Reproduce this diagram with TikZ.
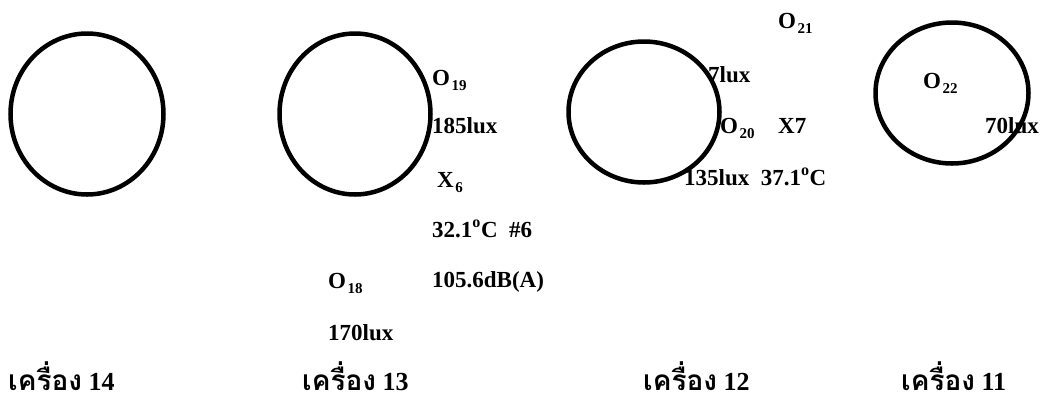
\documentclass[tikz,border=0pt]{standalone}
\usepackage{fontspec}
\setmainfont{Liberation Serif}
\newfontfamily\thaifont[Script=Thai]{Loma}
\usepackage{tikz}
\usetikzlibrary{shapes.geometric}

\newcommand{\lo}[1]{\kern1.5pt\raisebox{-0.5ex}{\fontsize{15}{16}\selectfont\bfseries#1}}
\newcommand{\degc}{\textsuperscript{o}C}
\newcommand{\kr}{{\thaifont\fontsize{28}{30}\selectfont เครื่อง}}

\begin{document}
\begin{tikzpicture}[x=1pt,y=-1pt,font=\fontsize{23}{26}\selectfont\bfseries,
 reading/.style={anchor=base west,inner sep=0pt},
 machine/.style={anchor=base west,inner sep=0pt,font=\fontsize{26}{28}\selectfont\bfseries},
 pit/.style={draw,ellipse,line width=4.5pt,inner sep=0pt}]
\useasboundingbox (0,0) rectangle (1042,400);
% readings
\node[reading] (o19) at (432,85) {O\lo{19}};
\node[reading] (lux185) at (432,133) {185lux};
\node[reading] (x6) at (437,187) {X\lo{6}};
\node[reading] (temp6) at (432,237) {32.1\degc\ \ \#6};
\node[reading] (noise6) at (432,287) {105.6dB(A)};
\node[reading] (o18) at (328,288) {O\lo{18}};
\node[reading] (lux170) at (328,340) {170lux};
\node[reading] (o21) at (778,28) {O\lo{21}};
\node[reading] (lux7) at (708,82) {7lux};
\node[reading] (o20) at (720,133) {O\lo{20}};
\node[reading] (x7) at (778,133) {X7};
\node[reading] (lux135) at (684,185) {135lux\ \ 37.1\degc};
\node[reading] (o22) at (923,88) {O\lo{22}};
\node[reading] (lux70) at (985,133) {70lux};
% machines
\node[machine] (m14) at (8,390) {\kr\ 14};
\node[machine] (m13) at (302,390) {\kr\ 13};
\node[machine] (m12) at (643,390) {\kr\ 12};
\node[machine] (m11) at (901,390) {\kr\ 11};
% pits
\node[pit,minimum width=153pt,minimum height=161pt] (p14) at (87,114) {};
\node[pit,minimum width=151pt,minimum height=161pt] (p13) at (355,114) {};
\node[pit,minimum width=151pt,minimum height=141pt] (p12) at (644,112) {};
\node[pit,minimum width=153pt,minimum height=141pt] (p11) at (952,93) {};
\end{tikzpicture}
\end{document}
